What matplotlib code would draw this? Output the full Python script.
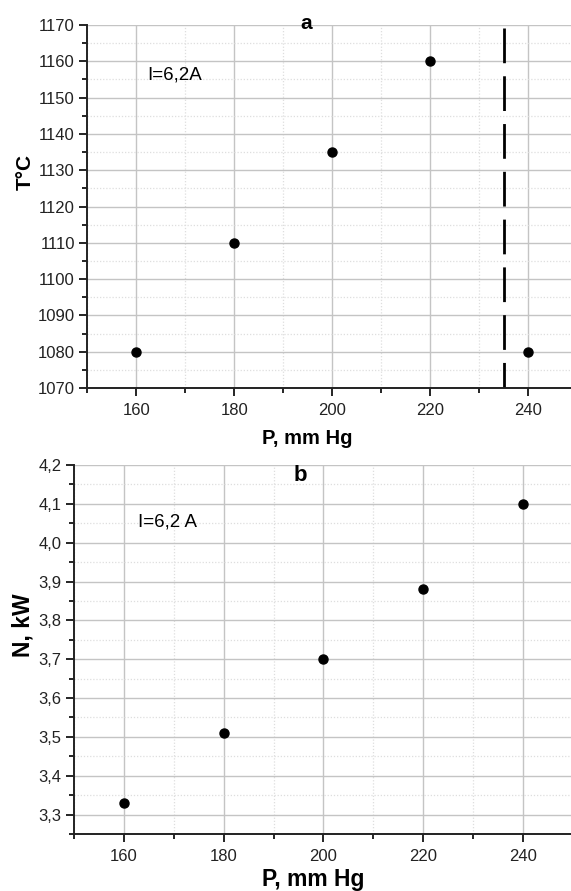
import numpy as np
import matplotlib
matplotlib.use("Agg")
import matplotlib.pyplot as plt
from matplotlib.ticker import MultipleLocator, FuncFormatter

plt.rcParams['font.family'] = ['Liberation Sans', 'DejaVu Sans']

# measured points
p = [160, 180, 200, 220, 240]
temp = [1080, 1110, 1135, 1160, 1080]
power = [3.33, 3.51, 3.70, 3.88, 4.10]
p_limit = 235        # dashed boundary on the temperature plot
current_a = "I=6,2A"
current_b = "I=6,2 A"

fig = plt.figure(figsize=(5.71, 8.91), dpi=100)
ax1 = fig.add_axes([0.1532, 0.5645, 0.8468, 0.4074])
ax2 = fig.add_axes([0.1296, 0.0640, 0.8704, 0.4141])


def style(ax):
    for s in ('top', 'right'):
        ax.spines[s].set_visible(False)
    for s in ('left', 'bottom'):
        ax.spines[s].set_linewidth(1.4)
        ax.spines[s].set_color('#222222')
    ax.grid(which='major', color='#c4c4c4', lw=1.0, ls='-')
    ax.grid(which='minor', color='#dedede', lw=0.9, ls=(0, (1, 1.5)))
    ax.set_axisbelow(True)
    ax.tick_params(which='major', direction='out', length=6, width=1.2,
                   labelsize=12, labelcolor='#222222', pad=3)
    ax.tick_params(which='minor', direction='out', length=3.5, width=1.2)
    ax.tick_params(axis='x', which='major', pad=5)


# --- a: temperature ---
ax1.set_xlim(150, 248.7)
ax1.set_ylim(1070, 1170)
ax1.xaxis.set_major_locator(MultipleLocator(20))
ax1.xaxis.set_minor_locator(MultipleLocator(10))
ax1.yaxis.set_major_locator(MultipleLocator(10))
ax1.yaxis.set_minor_locator(MultipleLocator(5))
style(ax1)
ax1.plot(p, temp, 'o', color='black', ms=6.5, clip_on=False, zorder=5)
ax1.plot([p_limit, p_limit], [1169.2, 1070], color='black', lw=2.0,
         dashes=(12.5, 4.7), solid_capstyle='butt', dash_capstyle='butt')
ax1.text(162.1, 1156.2, current_a, fontsize=13.5, va='center', ha='left')
ax1.text(194.6, 1170.3, 'a', fontsize=15, fontweight='bold', ha='center', va='center')
ax1.set_xlabel('P, mm Hg', fontsize=14.5, fontweight='bold')
ax1.set_ylabel('T\u00b0C', fontsize=15, fontweight='bold')
ax1.xaxis.set_label_coords(0.455, -0.138)
ax1.xaxis.label.set_va('center')
ax1.yaxis.set_label_coords(-0.129, 0.595)
ax1.yaxis.label.set_va('center')

# --- b: power ---
comma = FuncFormatter(lambda v, pos: f"{v:.1f}".replace('.', ','))
ax2.set_xlim(150, 249.6)
ax2.set_ylim(3.25, 4.2)
ax2.xaxis.set_major_locator(MultipleLocator(20))
ax2.xaxis.set_minor_locator(MultipleLocator(10))
ax2.yaxis.set_major_locator(MultipleLocator(0.1))
ax2.yaxis.set_minor_locator(MultipleLocator(0.05))
ax2.yaxis.set_major_formatter(comma)
style(ax2)
ax2.plot(p, power, 'o', color='black', ms=6.5, clip_on=False, zorder=5)
ax2.text(162.8, 4.053, current_b, fontsize=13.5, va='center', ha='left')
ax2.text(195.3, 4.174, 'b', fontsize=16, fontweight='bold', ha='center', va='center')
ax2.set_xlabel('P, mm Hg', fontsize=16.5, fontweight='bold')
ax2.set_ylabel('N, kW', fontsize=16.5, fontweight='bold')
ax2.xaxis.set_label_coords(0.481, -0.1247)
ax2.xaxis.label.set_va('center')
ax2.yaxis.set_label_coords(-0.102, 0.566)
ax2.yaxis.label.set_va('center')

fig.savefig('out.png', dpi=100, facecolor='white')
